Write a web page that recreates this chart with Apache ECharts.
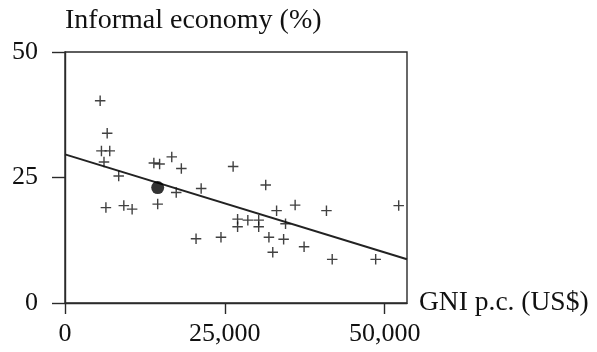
<!DOCTYPE html>
<html>
<head>
<meta charset="utf-8">
<script src="https://cdn.jsdelivr.net/npm/echarts@6/dist/echarts.min.js"></script>
<style>
html,body{margin:0;padding:0;background:#fff;}
#chart{width:597px;height:352px;}
</style>
</head>
<body>
<div id="chart"></div>
<script>
// GNI per capita (US$) for each country
var gniValues = [5500, 6600, 5700, 7000, 6100, 8400, 13900, 14800, 16700, 18200, 17400, 21300,
  6400, 9200, 10500, 14500, 20500, 24400, 26300, 31400, 33100, 36000, 40900, 52200,
  27000, 27000, 28600, 30300, 30300, 34500, 31900, 34200, 32500, 37400, 41800, 48600];
// Informal economy (% of GDP) for each country
var informalValues = [40.3, 33.8, 30.3, 30.3, 28.1, 25.3, 27.9, 27.7, 29.1, 26.8, 22.0, 22.8,
  19.0, 19.4, 18.7, 19.7, 12.8, 13.1, 27.2, 23.5, 18.4, 19.5, 18.4, 19.4,
  16.7, 15.2, 16.5, 16.5, 15.2, 15.8, 13.1, 12.7, 10.1, 11.2, 8.7, 8.7];
// Highlighted country
var highlightGni = [14500];
var highlightInformal = [23.0];
// Fitted regression line end points
var fitGni = [0, 53500];
var fitInformal = [29.6, 8.7];
// Tick labels
var xTicks = [0, 25000, 50000];
var yTicks = [0, 25, 50];

var FONT = 'Liberation Serif';
var INK = '#111';

function pairs(xs, ys) {
  var out = [];
  for (var i = 0; i < xs.length; i++) out.push([xs[i], ys[i]]);
  return out;
}

var chart = echarts.init(document.getElementById('chart'), null, {renderer: 'canvas'});
chart.setOption({
  animation: false,
  backgroundColor: '#fff',
  grid: {left: 65, right: 190, top: 52, bottom: 49, show: true, borderColor: '#2a2a2a', borderWidth: 1.4, backgroundColor: 'transparent'},
  xAxis: {
    type: 'value', min: 0, max: 53500, interval: 25000,
    name: 'GNI p.c. (US$)', nameLocation: 'end', nameGap: 12,
    nameTextStyle: {fontFamily: FONT, fontSize: 27.5, color: INK, verticalAlign: 'middle', align: 'left', padding: [0, 0, 20, 0]},
    axisLine: {show: true, lineStyle: {color: '#2a2a2a', width: 1.4}},
    axisTick: {show: true, inside: false, length: 11, lineStyle: {color: '#2a2a2a', width: 1.4},
      customValues: xTicks},
    axisLabel: {fontFamily: FONT, fontSize: 26, color: INK, margin: 18,
      customValues: xTicks,
      formatter: function (v) { return v === 0 ? '0' : v.toLocaleString('en-US'); }},
    splitLine: {show: false}
  },
  yAxis: {
    type: 'value', min: 0, max: 50, interval: 25,
    name: 'Informal economy (%)', nameLocation: 'end', nameGap: 17,
    nameTextStyle: {fontFamily: FONT, fontSize: 28, color: INK, align: 'left'},
    axisLine: {show: true, lineStyle: {color: '#2a2a2a', width: 1.4}},
    axisTick: {show: true, inside: false, length: 13, lineStyle: {color: '#2a2a2a', width: 1.4},
      customValues: yTicks},
    axisLabel: {fontFamily: FONT, fontSize: 26, color: INK, margin: 27, customValues: yTicks},
    splitLine: {show: false}
  },
  series: [
    {
      type: 'line', data: pairs(fitGni, fitInformal), symbol: 'none',
      lineStyle: {color: '#222', width: 2}, z: 2, silent: true
    },
    {
      type: 'scatter', data: pairs(gniValues, informalValues),
      symbol: 'path://M0,5 L10,5 M5,0 L5,10', symbolSize: 10.5,
      itemStyle: {color: 'none', borderColor: '#111', borderWidth: 1.4}, z: 3
    },
    {
      type: 'scatter', data: pairs(highlightGni, highlightInformal),
      symbol: 'circle', symbolSize: 13,
      itemStyle: {color: '#000'}, z: 4
    }
  ]
});
</script>
</body>
</html>
